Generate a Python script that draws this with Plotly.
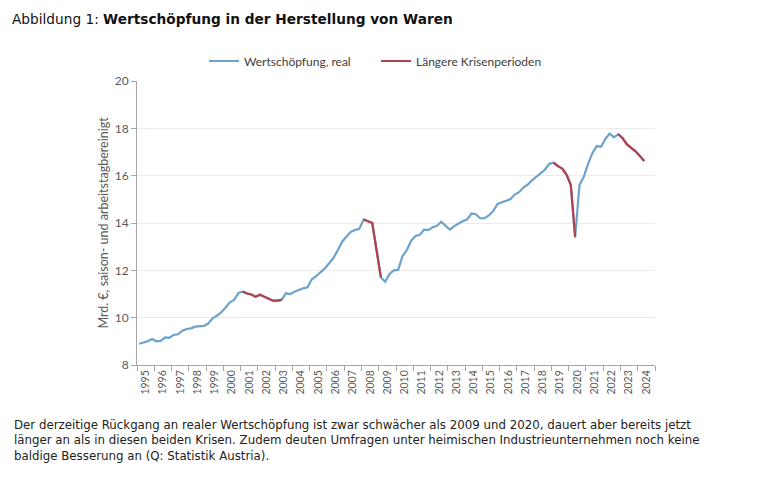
import plotly.graph_objects as go

# ---- data (quarterly, 1995Q1 - 2024Q2), Mrd. EUR ----
years = list(range(1995, 2025))
values_by_year = {
    1995: [8.90, 8.95, 9.00, 9.10],
    1996: [9.00, 9.02, 9.17, 9.15],
    1997: [9.27, 9.30, 9.45, 9.52],
    1998: [9.55, 9.62, 9.62, 9.65],
    1999: [9.75, 9.97, 10.08, 10.22],
    2000: [10.42, 10.65, 10.75, 11.05],
    2001: [11.10, 11.02, 10.98, 10.88],
    2002: [10.97, 10.88, 10.78, 10.72],
    2003: [10.72, 10.75, 11.03, 11.00],
    2004: [11.10, 11.18, 11.24, 11.28],
    2005: [11.62, 11.75, 11.92, 12.08],
    2006: [12.30, 12.52, 12.85, 13.20],
    2007: [13.42, 13.62, 13.70, 13.75],
    2008: [14.15, 14.07, 14.00, 12.85],
    2009: [11.70, 11.52, 11.85, 12.00],
    2010: [12.02, 12.60, 12.85, 13.25],
    2011: [13.45, 13.50, 13.72, 13.70],
    2012: [13.82, 13.88, 14.05, 13.88],
    2013: [13.72, 13.87, 13.98, 14.08],
    2014: [14.15, 14.40, 14.37, 14.20],
    2015: [14.20, 14.32, 14.50, 14.80],
    2016: [14.88, 14.95, 15.00, 15.20],
    2017: [15.30, 15.50, 15.62, 15.80],
    2018: [15.95, 16.10, 16.25, 16.50],
    2019: [16.55, 16.40, 16.30, 16.05],
    2020: [15.60, 13.40, 15.60, 15.95],
    2021: [16.50, 16.95, 17.25, 17.22],
    2022: [17.55, 17.78, 17.62, 17.75],
    2023: [17.58, 17.32, 17.18, 17.03],
    2024: [16.83, 16.62],
}
crisis_periods = [("2001Q1", "2003Q2"), ("2008Q1", "2009Q1"),
                  ("2019Q1", "2020Q2"), ("2022Q4", "2024Q2")]

series_name = "Wertschöpfung, real"
crisis_name = "Längere Krisenperioden"
y_title = "Mrd. €, saison- und arbeitstagbereinigt"
title_plain = "Abbildung 1: "
title_bold = "Wertschöpfung in der Herstellung von Waren"
footnote = ("Der derzeitige Rückgang an realer Wertschöpfung ist zwar schwächer als 2009 und 2020, dauert aber bereits jetzt<br>"
            "länger an als in diesen beiden Krisen. Zudem deuten Umfragen unter heimischen Industrieunternehmen noch keine<br>"
            "baldige Besserung an (Q: Statistik Austria).")

# ---- build series ----
labels, xs, ys = [], [], []
for yr in years:
    for q, v in enumerate(values_by_year[yr], start=1):
        labels.append(f"{yr}Q{q}")
        xs.append(yr + (q - 0.5) / 4)
        ys.append(v)

red = [None] * len(ys)
for a, b in crisis_periods:
    ia, ib = labels.index(a), labels.index(b)
    for i in range(ia, ib + 1):
        red[i] = ys[i]

BLUE = "#6DA2CD"
RED = "#B0424C"
GRAY = "#595959"
FONT = "Lato"
WIDE = "DejaVu Sans"

# page offset (body margin) compensation
OFF = 8
W, H = 768 - OFF, 493 - OFF
L, R, T, B = 137 - OFF, 655 - OFF, 81 - OFF, 365 - OFF


def px_x(p):
    return (p - OFF - L) / (R - L)


def px_y(p):
    return (B - (p - OFF)) / (B - T)


fig = go.Figure()
fig.add_trace(go.Scatter(x=xs, y=ys, mode="lines", name=series_name,
                         line=dict(color=BLUE, width=2.2), connectgaps=False))
fig.add_trace(go.Scatter(x=xs, y=red, mode="lines", name=crisis_name,
                         line=dict(color=RED, width=2.2), connectgaps=False))

fig.update_layout(
    width=W, height=H,
    margin=dict(l=L, r=W - R, t=T, b=H - B),
    paper_bgcolor="white", plot_bgcolor="white",
    font=dict(family=FONT, color=GRAY, size=11),
    showlegend=True,
    legend=dict(orientation="h", x=px_x(376), xanchor="center",
                y=px_y(61), yanchor="middle", font=dict(size=12, color="#404040"),
                itemwidth=30, entrywidth=127, entrywidthmode="pixels"),
    title=dict(text=f"{title_plain}<b>{title_bold}</b>", x=(12 - OFF) / W, xanchor="left",
               y=1 - (19 - OFF) / H, yanchor="middle",
               font=dict(family=WIDE, size=13.7, color="#111111")),
)

fig.update_xaxes(
    range=[1995, 2025],
    tickmode="array",
    tickvals=[y + 0.5 for y in years],
    ticktext=[str(y) for y in years],
    tickangle=-90,
    ticks="",
    tickfont=dict(size=10.5, color=GRAY),
    showgrid=False, zeroline=False,
    showline=True, linecolor="#A6A6A6", linewidth=1,
    minor=dict(tickmode="linear", tick0=1995, dtick=1, ticks="outside",
               ticklen=5, tickcolor="#A6A6A6", showgrid=False),
)
fig.update_yaxes(
    range=[8, 20], dtick=2, tick0=8,
    ticks="outside", ticklen=5, tickcolor="#A6A6A6",
    tickfont=dict(size=12, color=GRAY),
    showgrid=True, gridcolor="#EBEBEB", gridwidth=1,
    zeroline=False, showline=True, linecolor="#A6A6A6", linewidth=1,
    title=dict(text=y_title, font=dict(size=12.5, color=GRAY), standoff=3),
)

fig.add_annotation(text=footnote, xref="paper", yref="paper",
                   x=px_x(12), y=px_y(416), xanchor="left", yanchor="top",
                   align="left", showarrow=False,
                   font=dict(family=WIDE, size=11.8, color="#222222"))

fig.write_html("out.html")
